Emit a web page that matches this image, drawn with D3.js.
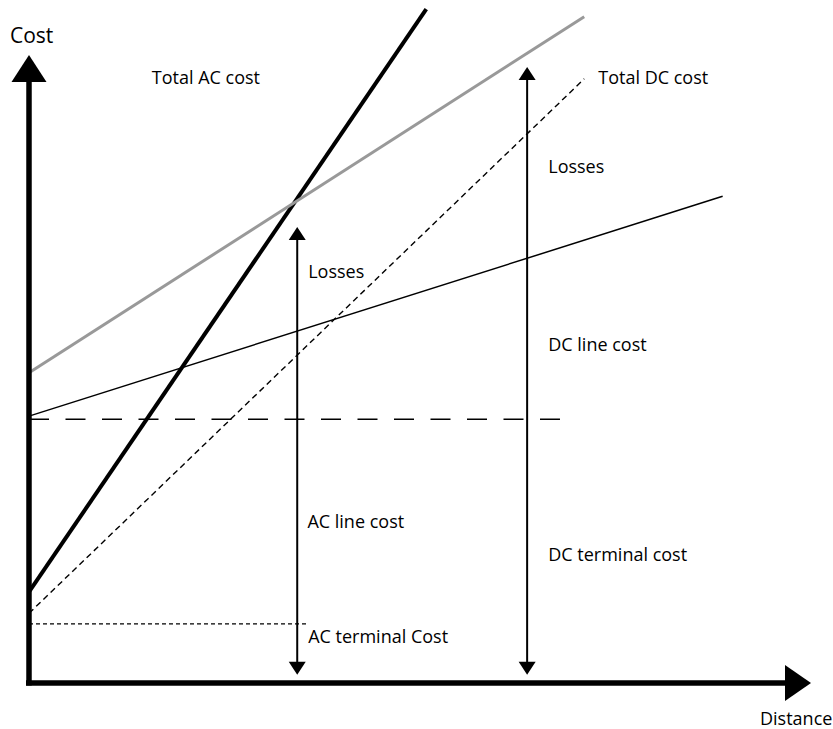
<!DOCTYPE html>
<html><head><meta charset="utf-8">
<script src="https://cdn.jsdelivr.net/npm/d3@7"></script>
<style>html,body{margin:0;padding:0;background:#fff}svg{display:block}</style>
</head><body><svg id="c" width="833" height="729"></svg>
<script>
// ---- data (distance units, cost units) ----
const lineNames = ["Total AC cost","Total AC (grey)","DC line","Total DC cost"];
const lineX0 = [0, 0, 0, 0];
const lineY0 = [14.5, 49.4, 42.5, 11.1];
const lineX1 = [50.8, 71.0, 88.7, 71.0];
const lineY1 = [107.3, 106.1, 77.5, 96.2];
const refLevels = [42.0, 9.4];          // DC terminal, AC terminal
const refEnds = [67.9, 35.7];
const arrowX = [34.3, 63.7];
const arrowLow = [1.3, 1.3];
const arrowHigh = [72.6, 98.1];
const labelTexts = ["Total AC cost","Total DC cost","Losses","Losses","DC line cost","AC line cost","DC terminal cost","AC terminal Cost"];
const labelX = [15.7, 72.8, 66.4, 35.7, 66.4, 35.6, 66.4, 35.7];
const labelY = [95.4, 95.4, 81.2, 64.5, 52.9, 24.7, 19.4, 6.4];

const svg = d3.select("#c");
const x = d3.scaleLinear().domain([0,100]).range([29,811]);
const y = d3.scaleLinear().domain([0,100]).range([683,55]);
const font = "'Open Sans', sans-serif";

// reference dashed levels
svg.append("line").attr("x1",x(0)).attr("x2",x(refEnds[0])).attr("y1",y(refLevels[0])).attr("y2",y(refLevels[0]))
  .attr("stroke","#000").attr("stroke-width",1.6).attr("stroke-dasharray","20,16.5");
svg.append("line").attr("x1",x(0)).attr("x2",x(refEnds[1])).attr("y1",y(refLevels[1])).attr("y2",y(refLevels[1]))
  .attr("stroke","#000").attr("stroke-width",1.2).attr("stroke-dasharray","4,3");

const styles = [
  {stroke:"#000", w:4, dash:null},
  {stroke:"#999", w:3, dash:null},
  {stroke:"#000", w:1.5, dash:null},
  {stroke:"#000", w:1.4, dash:"6,4"}
];
lineNames.forEach((n,i)=>{
  svg.append("line").attr("x1",x(lineX0[i])).attr("y1",y(lineY0[i])).attr("x2",x(lineX1[i])).attr("y2",y(lineY1[i]))
    .attr("stroke",styles[i].stroke).attr("stroke-width",styles[i].w).attr("stroke-dasharray",styles[i].dash);
});

// double arrows
arrowX.forEach((ax,i)=>{
  const px = x(ax), top = y(arrowHigh[i]), bot = y(arrowLow[i]);
  const hh = 13, hw = 8.5;
  svg.append("line").attr("x1",px).attr("x2",px).attr("y1",top+hh-1).attr("y2",bot-hh+1).attr("stroke","#000").attr("stroke-width",2);
  svg.append("path").attr("d",`M${px},${top}L${px-hw},${top+hh}L${px+hw},${top+hh}Z`).attr("fill","#000");
  svg.append("path").attr("d",`M${px},${bot}L${px-hw},${bot-hh}L${px+hw},${bot-hh}Z`).attr("fill","#000");
});

// axes
const ox = x(0), oy = y(0);
svg.append("line").attr("x1",ox).attr("x2",ox).attr("y1",oy+2.5).attr("y2",y(100)+20).attr("stroke","#000").attr("stroke-width",5.5);
svg.append("path").attr("d",`M${ox},${y(100)}L${ox-17.5},${y(100)+27}L${ox+17.5},${y(100)+27}Z`).attr("fill","#000");
svg.append("line").attr("x1",ox-3).attr("x2",x(100)-20).attr("y1",oy).attr("y2",oy).attr("stroke","#000").attr("stroke-width",5.5);
svg.append("path").attr("d",`M${x(100)},${oy}L${x(100)-26},${oy-18}L${x(100)-26},${oy+18}Z`).attr("fill","#000");

svg.append("text").attr("x",10).attr("y",43).attr("font-family",font).attr("font-size",21).text("Cost");
svg.append("text").attr("x",760).attr("y",725).attr("font-family",font).attr("font-size",18).text("Distance");

labelTexts.forEach((t,i)=>{
  svg.append("text").attr("x",x(labelX[i])).attr("y",y(labelY[i])).attr("font-family",font).attr("font-size",18).text(t);
});
</script></body></html>
